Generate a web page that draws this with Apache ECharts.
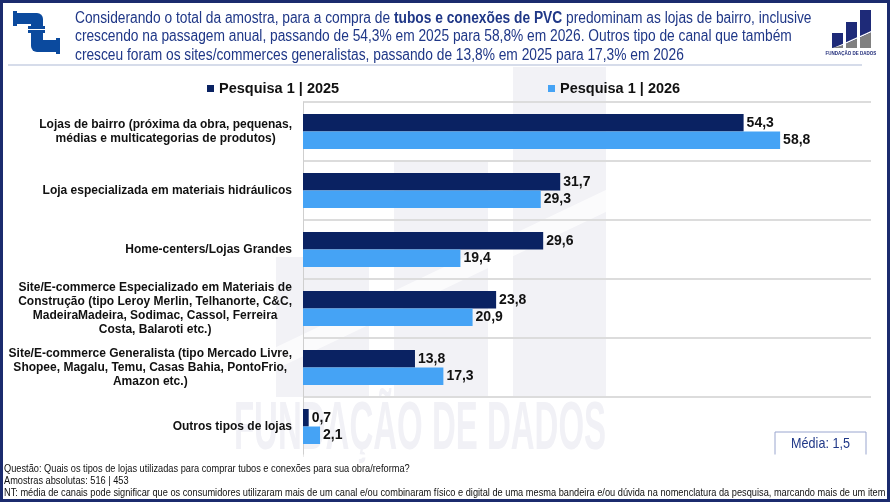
<!DOCTYPE html>
<html><head><meta charset="utf-8">
<script src="https://cdn.jsdelivr.net/npm/echarts@6/dist/echarts.min.js"></script>
<style>html,body{margin:0;padding:0;background:#fff}#c{width:890px;height:502px}</style>
</head><body><div id="c"></div>
<script>
const categories = [
  'Lojas de bairro (próxima da obra, pequenas,\nmédias e multicategorias de produtos)',
  'Loja especializada em materiais hidráulicos',
  'Home-centers/Lojas Grandes',
  'Site/E-commerce Especializado em Materiais de\nConstrução (tipo Leroy Merlin, Telhanorte, C&C,\nMadeiraMadeira, Sodimac, Cassol, Ferreira\nCosta, Balaroti etc.)',
  'Site/E-commerce Generalista (tipo Mercado Livre,\nShopee, Magalu, Temu, Casas Bahia, PontoFrio,\nAmazon etc.)',
  'Outros tipos de lojas'
];
const series2025 = [54.3, 31.7, 29.6, 23.8, 13.8, 0.7];
const series2026 = [58.8, 29.3, 19.4, 20.9, 17.3, 2.1];
const seriesNames = ['Pesquisa 1 | 2025', 'Pesquisa 1 | 2026'];
const headerLines = [
  'Considerando o total da amostra, para a compra de {b|tubos e conexões de PVC} predominam as lojas de bairro, inclusive',
  'crescendo na passagem anual, passando de 54,3% em 2025 para 58,8% em 2026. Outros tipo de canal que também',
  'cresceu foram os sites/commerces generalistas, passando de 13,8% em 2025 para 17,3% em 2026'
];
const footerLines = [
  'Questão: Quais os tipos de lojas utilizadas para comprar tubos e conexões para sua obra/reforma?',
  'Amostras absolutas: 516 | 453',
  'NT: média de canais pode significar que os consumidores utilizaram mais de um canal e/ou combinaram físico e digital de uma mesma bandeira e/ou dúvida na nomenclatura da pesquisa, marcando mais de um item'
];
const mediaText = 'Média: 1,5';
const watermarkText = 'FUNDAÇÃO DE DADOS';

const DARK = '#0a2262', LIGHT = '#45a3f5', NAVY = '#1f3787';
const FONT = 'Liberation Sans';

const chart = echarts.init(document.getElementById('c'), null, {renderer: 'canvas'});

const fmt = v => v.toFixed(1).replace('.', ',');
const pipe = '#0b4a9e';
const g = [];
// watermark bars
const wm = '#f2f2f6';
g.push({type:'rect', z:-5, shape:{x:276,y:257,width:93,height:140}, style:{fill:wm}});
g.push({type:'rect', z:-5, shape:{x:394,y:160,width:94,height:237}, style:{fill:wm}});
g.push({type:'rect', z:-5, shape:{x:513,y:67,width:93,height:330}, style:{fill:wm}});
g.push({type:'polygon', z:-4, shape:{points:[[270,350],[610,188],[610,210],[270,372]]}, style:{fill:'rgba(255,255,255,0.7)'}});
g.push({type:'text', z:-4, x:420, y:430, scaleY:2.1,
  style:{text:watermarkText, align:'center', verticalAlign:'middle', fontSize:33, fontWeight:'bold', fontFamily:FONT, fill:'#f1f1f6'}});
// header separator
g.push({type:'line', shape:{x1:8,y1:65,x2:862,y2:65}, style:{stroke:'#c9d1e3', lineWidth:1.5}});
// pipe icon
[[13,11,4,15,0],[17,13,20,11,0],[31,13,12,14,[0,6,0,0]],[28,26,17,3,0],[28,30,17,3,0],[31,33,12,19,[0,0,0,6]],[43,40,13,12,0],[56,38,4,16,0]]
 .forEach(r => g.push({type:'rect', shape:{x:r[0],y:r[1],width:r[2],height:r[3],r:r[4]}, style:{fill:pipe}}));
// right logo
const logoBars = [[832,33],[846,22],[860,10]];
const yl = x => 51 - (x - 830) * 0.45;
logoBars.forEach(b => {
  g.push({type:'rect', shape:{x:b[0],y:b[1],width:11,height:48-b[1]}, style:{fill:'#1e2a78'}});
  const x0=b[0], x1=b[0]+11;
  const ya=Math.max(yl(x0), b[1]), yb=Math.max(yl(x1), b[1]);
  g.push({type:'polygon', shape:{points:[[x0,ya-1.5],[x1,yb-1.5],[x1,yb],[x0,ya]]}, style:{fill:'#fff'}});
  if (ya < 48 || yb < 48) g.push({type:'polygon', shape:{points:[[x0,Math.min(ya,48)],[x1,Math.min(yb,48)],[x1,48],[x0,48]]}, style:{fill:'#808080'}});
});
g.push({type:'text', x:851, y:54, style:{text:watermarkText, align:'center', verticalAlign:'middle', fontSize:4.5, fontWeight:'bold', fontFamily:FONT, fill:'#1e2a78'}});
// header text
g.push({type:'text', x:75, y:9, scaleX:0.86, style:{text:headerLines.join('\n'), fontSize:16, fontFamily:FONT, fill:NAVY, lineHeight:18.5,
  rich:{b:{fontWeight:'bold', fontSize:16, fontFamily:FONT, fill:NAVY, lineHeight:18.5}}}});
// footer
footerLines.forEach((t,i) => g.push({type:'text', x:4, y:469+i*12, scaleX:0.84,
  style:{text:t, verticalAlign:'middle', fontSize:11, fontFamily:FONT, fill:'#111'}}));
// media box
g.push({type:'rect', shape:{x:775,y:432,width:91,height:24}, style:{fill:'#fff', stroke:'#9aa6cf', lineWidth:1}});
g.push({type:'text', x:820.5, y:444, scaleX:0.84, style:{text:mediaText, align:'center', verticalAlign:'middle', fontSize:15, fontFamily:FONT, fill:NAVY}});
// hide bottom category boundary line (absent in reference)
g.push({type:'line', z:50, shape:{x1:303.5,y1:456,x2:872,y2:456}, style:{stroke:'#fff', lineWidth:3}});
// frame
g.push({type:'rect', z:100, shape:{x:1.5,y:1.5,width:887,height:499}, style:{fill:'none', stroke:'#1b2b6e', lineWidth:3}});

const legendText = {fontFamily:FONT, fontWeight:'bold', fontSize:14.5, color:'#111'};
const option = {
  animation:false,
  backgroundColor:'#fff',
  graphic: g,
  legend: [
    {data:[seriesNames[0]], left:202, top:76, icon:'rect', itemWidth:7, itemHeight:7, itemGap:4, textStyle:legendText},
    {data:[seriesNames[1]], left:543, top:76, icon:'rect', itemWidth:7, itemHeight:7, itemGap:4, textStyle:legendText}
  ],
  grid:{left:303, right:19, top:102, bottom:46, containLabel:false},
  xAxis:{type:'value', min:0, max:70, show:false},
  yAxis:{type:'category', data:categories, inverse:true,
    axisLine:{show:true, lineStyle:{color:'#cfcfcf', width:1}},
    axisTick:{show:false},
    splitLine:{show:true, lineStyle:{color:'#dcdcdc', width:2}},
    axisLabel:{margin:11, fontSize:12, fontWeight:'bold', fontFamily:FONT, color:'#111', lineHeight:14,
      formatter: v => v.split('\n').map(l => '{c|' + l + '}').join('\n'),
      rich:{c:{align:'center', fontSize:12, fontWeight:'bold', fontFamily:FONT, color:'#111', lineHeight:14}}}
  },
  series:[
    {name:seriesNames[0], type:'bar', data:series2025, barWidth:17.5, barGap:'0%', itemStyle:{color:DARK},
     label:{show:true, position:'right', distance:3, fontSize:14, fontWeight:'bold', fontFamily:FONT, color:'#111', formatter:p=>fmt(p.value)}},
    {name:seriesNames[1], type:'bar', data:series2026, barWidth:17.5, barGap:'0%', itemStyle:{color:LIGHT},
     label:{show:true, position:'right', distance:3, fontSize:14, fontWeight:'bold', fontFamily:FONT, color:'#111', formatter:p=>fmt(p.value)}}
  ]
};
chart.setOption(option);
</script></body></html>
